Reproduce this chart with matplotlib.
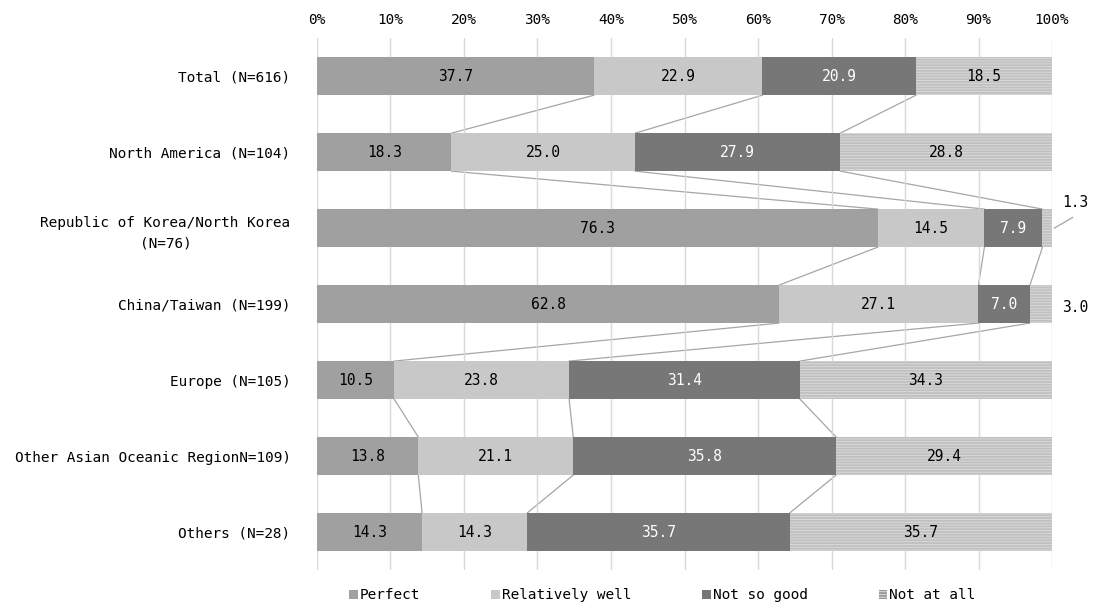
import matplotlib
matplotlib.use("Agg")
import matplotlib.pyplot as plt
import numpy as np
from matplotlib.patches import Patch

regions = ["Total (N=616)", "North America (N=104)",
           "Republic of Korea/North Korea\n(N=76)", "China/Taiwan (N=199)",
           "Europe (N=105)", "Other Asian Oceanic RegionN=109)", "Others (N=28)"]
series = ["Perfect", "Relatively well", "Not so good", "Not at all"]
perfect = [37.7, 18.3, 76.3, 62.8, 10.5, 13.8, 14.3]
rel_well = [22.9, 25.0, 14.5, 27.1, 23.8, 21.1, 14.3]
not_good = [20.9, 27.9, 7.9, 7.0, 31.4, 35.8, 35.7]
not_all = [18.5, 28.8, 1.3, 3.0, 34.3, 29.4, 35.7]
xticks = np.arange(0, 101, 10)

colors = ["#a0a0a0", "#c8c8c8", "#777777", "#dadada"]
txt_colors = ["black", "black", "white", "black"]

plt.rcParams["font.family"] = ["DejaVu Sans Mono"]
plt.rcParams["hatch.linewidth"] = 1.3
plt.rcParams["hatch.color"] = "#999999"

vals = np.array([perfect, rel_well, not_good, not_all])
pct = vals / vals.sum(axis=0) * 100
cum = np.vstack([np.zeros(len(regions)), np.cumsum(pct, axis=0)])
y = np.arange(len(regions))
h = 0.5

fig = plt.figure(figsize=(10.96, 6.06), dpi=100)
ax = fig.add_axes([0.2892, 0.0594, 0.6707, 0.8776])

for k in range(4):
    kw = dict(hatch="------", edgecolor="#c0c0c0", linewidth=0) if k == 3 else dict(linewidth=0)
    ax.barh(y, pct[k], left=cum[k], height=h, color=colors[k], zorder=2, **kw)
    for i in range(len(regions)):
        if k == 3 and vals[k, i] < 5:
            continue
        ax.text(cum[k, i] + pct[k, i] / 2, y[i], f"{vals[k, i]:.1f}", ha="center", va="center",
                color=txt_colors[k], fontsize=10.5, zorder=4)

# connector lines between bars
for i in range(len(regions) - 1):
    for k in range(1, 4):
        ax.plot([cum[k, i], cum[k, i + 1]], [y[i] + h / 2, y[i + 1] - h / 2],
                color="#a6a6a6", lw=0.9, zorder=1)

# small values placed outside the bars
ax.plot([cum[4, 2] + 0.3, cum[4, 2] + 2.8], [y[2], y[2] - 0.14], color="#a6a6a6", lw=0.9,
        clip_on=False)
ax.text(103.1, y[2] - 0.34, f"{not_all[2]:.1f}", ha="center", va="center", fontsize=10.5,
        clip_on=False)
ax.text(103.1, y[3] + 0.05, f"{not_all[3]:.1f}", ha="center", va="center", fontsize=10.5,
        clip_on=False)

ax.set_xlim(0, 100)
ax.set_ylim(len(regions) - 0.5, -0.5)
ax.set_xticks(xticks)
ax.set_xticklabels([f"{t}%" for t in xticks])
ax.xaxis.tick_top()
ax.set_yticks(y)
ax.set_yticklabels(regions, multialignment="center", linespacing=1.6)
ax.tick_params(axis="both", length=0, labelsize=10.4)
ax.tick_params(axis="y", pad=19)
ax.tick_params(axis="x", pad=8)
ax.grid(axis="x", color="#d9d9d9", lw=1, zorder=0)
for s in ax.spines.values():
    s.set_visible(False)

handles = [Patch(facecolor=colors[k], hatch="------" if k == 3 else None, linewidth=0)
           for k in range(4)]
ax.legend(handles, series, loc="upper center", bbox_to_anchor=(0.47, -0.01), ncol=4, frameon=False,
          fontsize=10.4, handlelength=0.6, handleheight=0.6, handletextpad=0.15, columnspacing=4.9)

fig.savefig("out.png", dpi=100)
